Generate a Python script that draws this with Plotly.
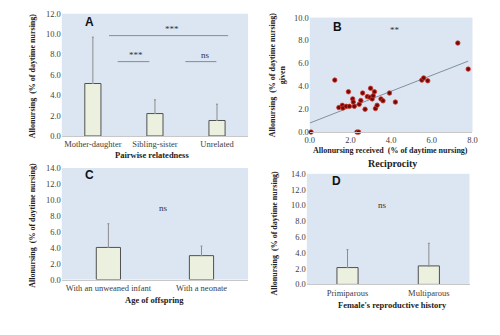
import plotly.graph_objects as go

W, H = 500, 335

# ---------- data ----------
a_cats = ["Mother-daughter", "Sibling-sister", "Unrelated"]
a_mean = [5.15, 2.2, 1.52]
a_top = [9.7, 3.55, 3.12]

b_received = [0.06, 1.23, 1.43, 1.6, 1.63, 1.79, 1.9, 1.95, 2.11, 2.14, 2.19, 2.32, 2.4,
              2.43, 2.51, 2.6, 2.72, 2.83, 2.99, 2.96, 3.07, 3.12, 3.18, 3.23, 3.31, 3.5,
              3.6, 3.92, 4.21, 5.51, 5.6, 5.8, 7.28, 7.79]
b_given = [0.0, 4.54, 2.14, 2.34, 2.1, 2.25, 3.52, 2.25, 2.9, 2.62, 2.25, 0.0, 0.0,
           2.43, 2.76, 3.41, 2.0, 3.1, 3.83, 3.04, 2.9, 3.18, 3.52, 2.06, 2.34, 2.9,
           2.73, 3.41, 2.62, 4.54, 4.73, 4.48, 7.78, 5.5]
b_fit_x = [0.0, 7.79]
b_fit_y = [0.79, 6.2]

c_cats = ["With an unweaned infant", "With a neonate"]
c_mean = [4.03, 3.0]
c_top = [7.0, 4.2]

d_cats = ["Primiparous", "Multiparous"]
d_mean = [2.13, 2.34]
d_top = [4.4, 5.2]

ytitle = "Allonursing  (% of daytime nursing)"

# ---------- style ----------
BG = "#dce6f2"
BAR_FILL = "#ebf1de"
BAR_LINE = "#505050"
ERR = "#8c8c8c"
SERIF = "Liberation Serif"
TICKC = "#404040"


def px(x):
    return x / W


def py(y):
    return 1 - y / H


fig = go.Figure()


def add_bars(cats, mean, top, xa, ya):
    fig.add_trace(go.Bar(
        x=cats, y=mean, xaxis=xa, yaxis=ya, width=0.26,
        marker=dict(color=BAR_FILL, line=dict(color=BAR_LINE, width=1)),
        error_y=dict(type="data", symmetric=False,
                     array=[t - m for t, m in zip(top, mean)],
                     arrayminus=[0] * len(mean),
                     color=ERR, thickness=1, width=1),
        showlegend=False))


add_bars(a_cats, a_mean, a_top, "x", "y")
fig.add_trace(go.Scatter(
    x=b_fit_x, y=b_fit_y, xaxis="x2", yaxis="y2", mode="lines",
    line=dict(color="#7f90a0", width=1), showlegend=False))
fig.add_trace(go.Scatter(
    x=b_received, y=b_given, xaxis="x2", yaxis="y2", mode="markers",
    marker=dict(size=4.5, color="#6e0a0a", line=dict(color="#d8382a", width=0.8)),
    cliponaxis=False, showlegend=False))
add_bars(c_cats, c_mean, c_top, "x3", "y3")
add_bars(d_cats, d_mean, d_top, "x4", "y4")

tickfont = dict(family=SERIF, size=8.5, color=TICKC)
axis_common = dict(showgrid=False, zeroline=False, tickfont=tickfont, ticks="")

fig.update_layout(
    width=W, height=H, margin=dict(l=0, r=0, t=0, b=0),
    paper_bgcolor="white", plot_bgcolor=BG, bargap=0.7,
    xaxis=dict(domain=[px(58), px(248)], anchor="y", range=[-0.5, 2.5],
               showline=True, linecolor="#c8c8c8", **axis_common),
    yaxis=dict(domain=[py(135), py(9)], anchor="x", range=[0, 12], dtick=2,
               tickformat=".1f", **axis_common),
    xaxis2=dict(domain=[px(311), px(477)], anchor="y2", range=[0, 8], dtick=2,
                tickformat=".1f", showline=True, linecolor="#c8c8c8", **axis_common),
    yaxis2=dict(domain=[py(131), py(13)], anchor="x2", range=[0, 10], dtick=2,
                tickformat=".1f", **axis_common),
    xaxis3=dict(domain=[px(58), px(248)], anchor="y3", range=[-0.5, 1.5],
                showline=True, linecolor="#c8c8c8", **axis_common),
    yaxis3=dict(domain=[py(283), py(168)], anchor="x3", range=[0, 14], dtick=2,
                tickformat=".1f", **axis_common),
    xaxis4=dict(domain=[px(308), px(474)], anchor="y4", range=[-0.5, 1.5],
                showline=True, linecolor="#c8c8c8", **axis_common),
    yaxis4=dict(domain=[py(288), py(174)], anchor="x4", range=[0, 14], dtick=2,
                tickformat=".1f", **axis_common),
)

annots = []


def note(text, x, y, xref, yref, size=8.5, bold=False, family=SERIF, color="#333333",
         angle=0):
    t = f"<b>{text}</b>" if bold else text
    annots.append(dict(text=t, x=x, y=y, xref=xref, yref=yref, showarrow=False,
                       font=dict(family=family, size=size, color=color),
                       textangle=angle, xanchor="center", yanchor="middle"))


# panel letters
note("A", -0.06, 11.2, "x", "y", size=12, bold=True, family="Liberation Sans", color="#111")
note("B", 1.36, 9.15, "x2", "y2", size=12, bold=True, family="Liberation Sans", color="#111")
note("C", -0.2, 13.1, "x3", "y3", size=12, bold=True, family="Liberation Sans", color="#111")
note("D", -0.13, 13.1, "x4", "y4", size=12, bold=True, family="Liberation Sans", color="#111")

# significance marks
note("***", 1.27, 10.5, "x", "y", size=9)
note("***", 0.70, 7.95, "x", "y", size=9)
note("ns", 1.82, 7.95, "x", "y", size=9)
note("**", 4.17, 8.96, "x2", "y2", size=9)
note("ns", 0.595, 9.0, "x3", "y3", size=9)
note("ns", 0.436, 10.0, "x4", "y4", size=9)

# axis titles
note(ytitle, px(28), py(73), "paper", "paper", size=8, bold=True, color="#222", angle=-90)
note(ytitle + "<br>given", px(278), py(72), "paper", "paper", size=8, bold=True,
     color="#222", angle=-90)
note(ytitle, px(28), py(227), "paper", "paper", size=8, bold=True, color="#222", angle=-90)
note(ytitle, px(275), py(235), "paper", "paper", size=8, bold=True, color="#222", angle=-90)

note("Pairwise relatedness", px(150), py(155), "paper", "paper", size=8.5, bold=True, color="#222")
note("Allonursing received  (% of daytime nursing)", px(393), py(150), "paper", "paper",
     size=8, bold=True, color="#222")
note("Reciprocity", px(395), py(163), "paper", "paper", size=10, bold=True, color="#222")
note("Age of offspring", px(153), py(304), "paper", "paper", size=8.5, bold=True, color="#222")
note("Female's reproductive history", px(395), py(309), "paper", "paper", size=8.5,
     bold=True, color="#222")

fig.update_layout(annotations=annots)

# significance lines (data coordinates)
LINEC = "#7f8c99"
for x0, x1, yv in [(0.26, 2.18, 9.85), (0.40, 0.91, 7.3), (1.49, 1.99, 7.3)]:
    fig.add_shape(type="line", x0=x0, x1=x1, y0=yv, y1=yv, xref="x", yref="y",
                  line=dict(color=LINEC, width=1))

fig.write_html("out.html")
